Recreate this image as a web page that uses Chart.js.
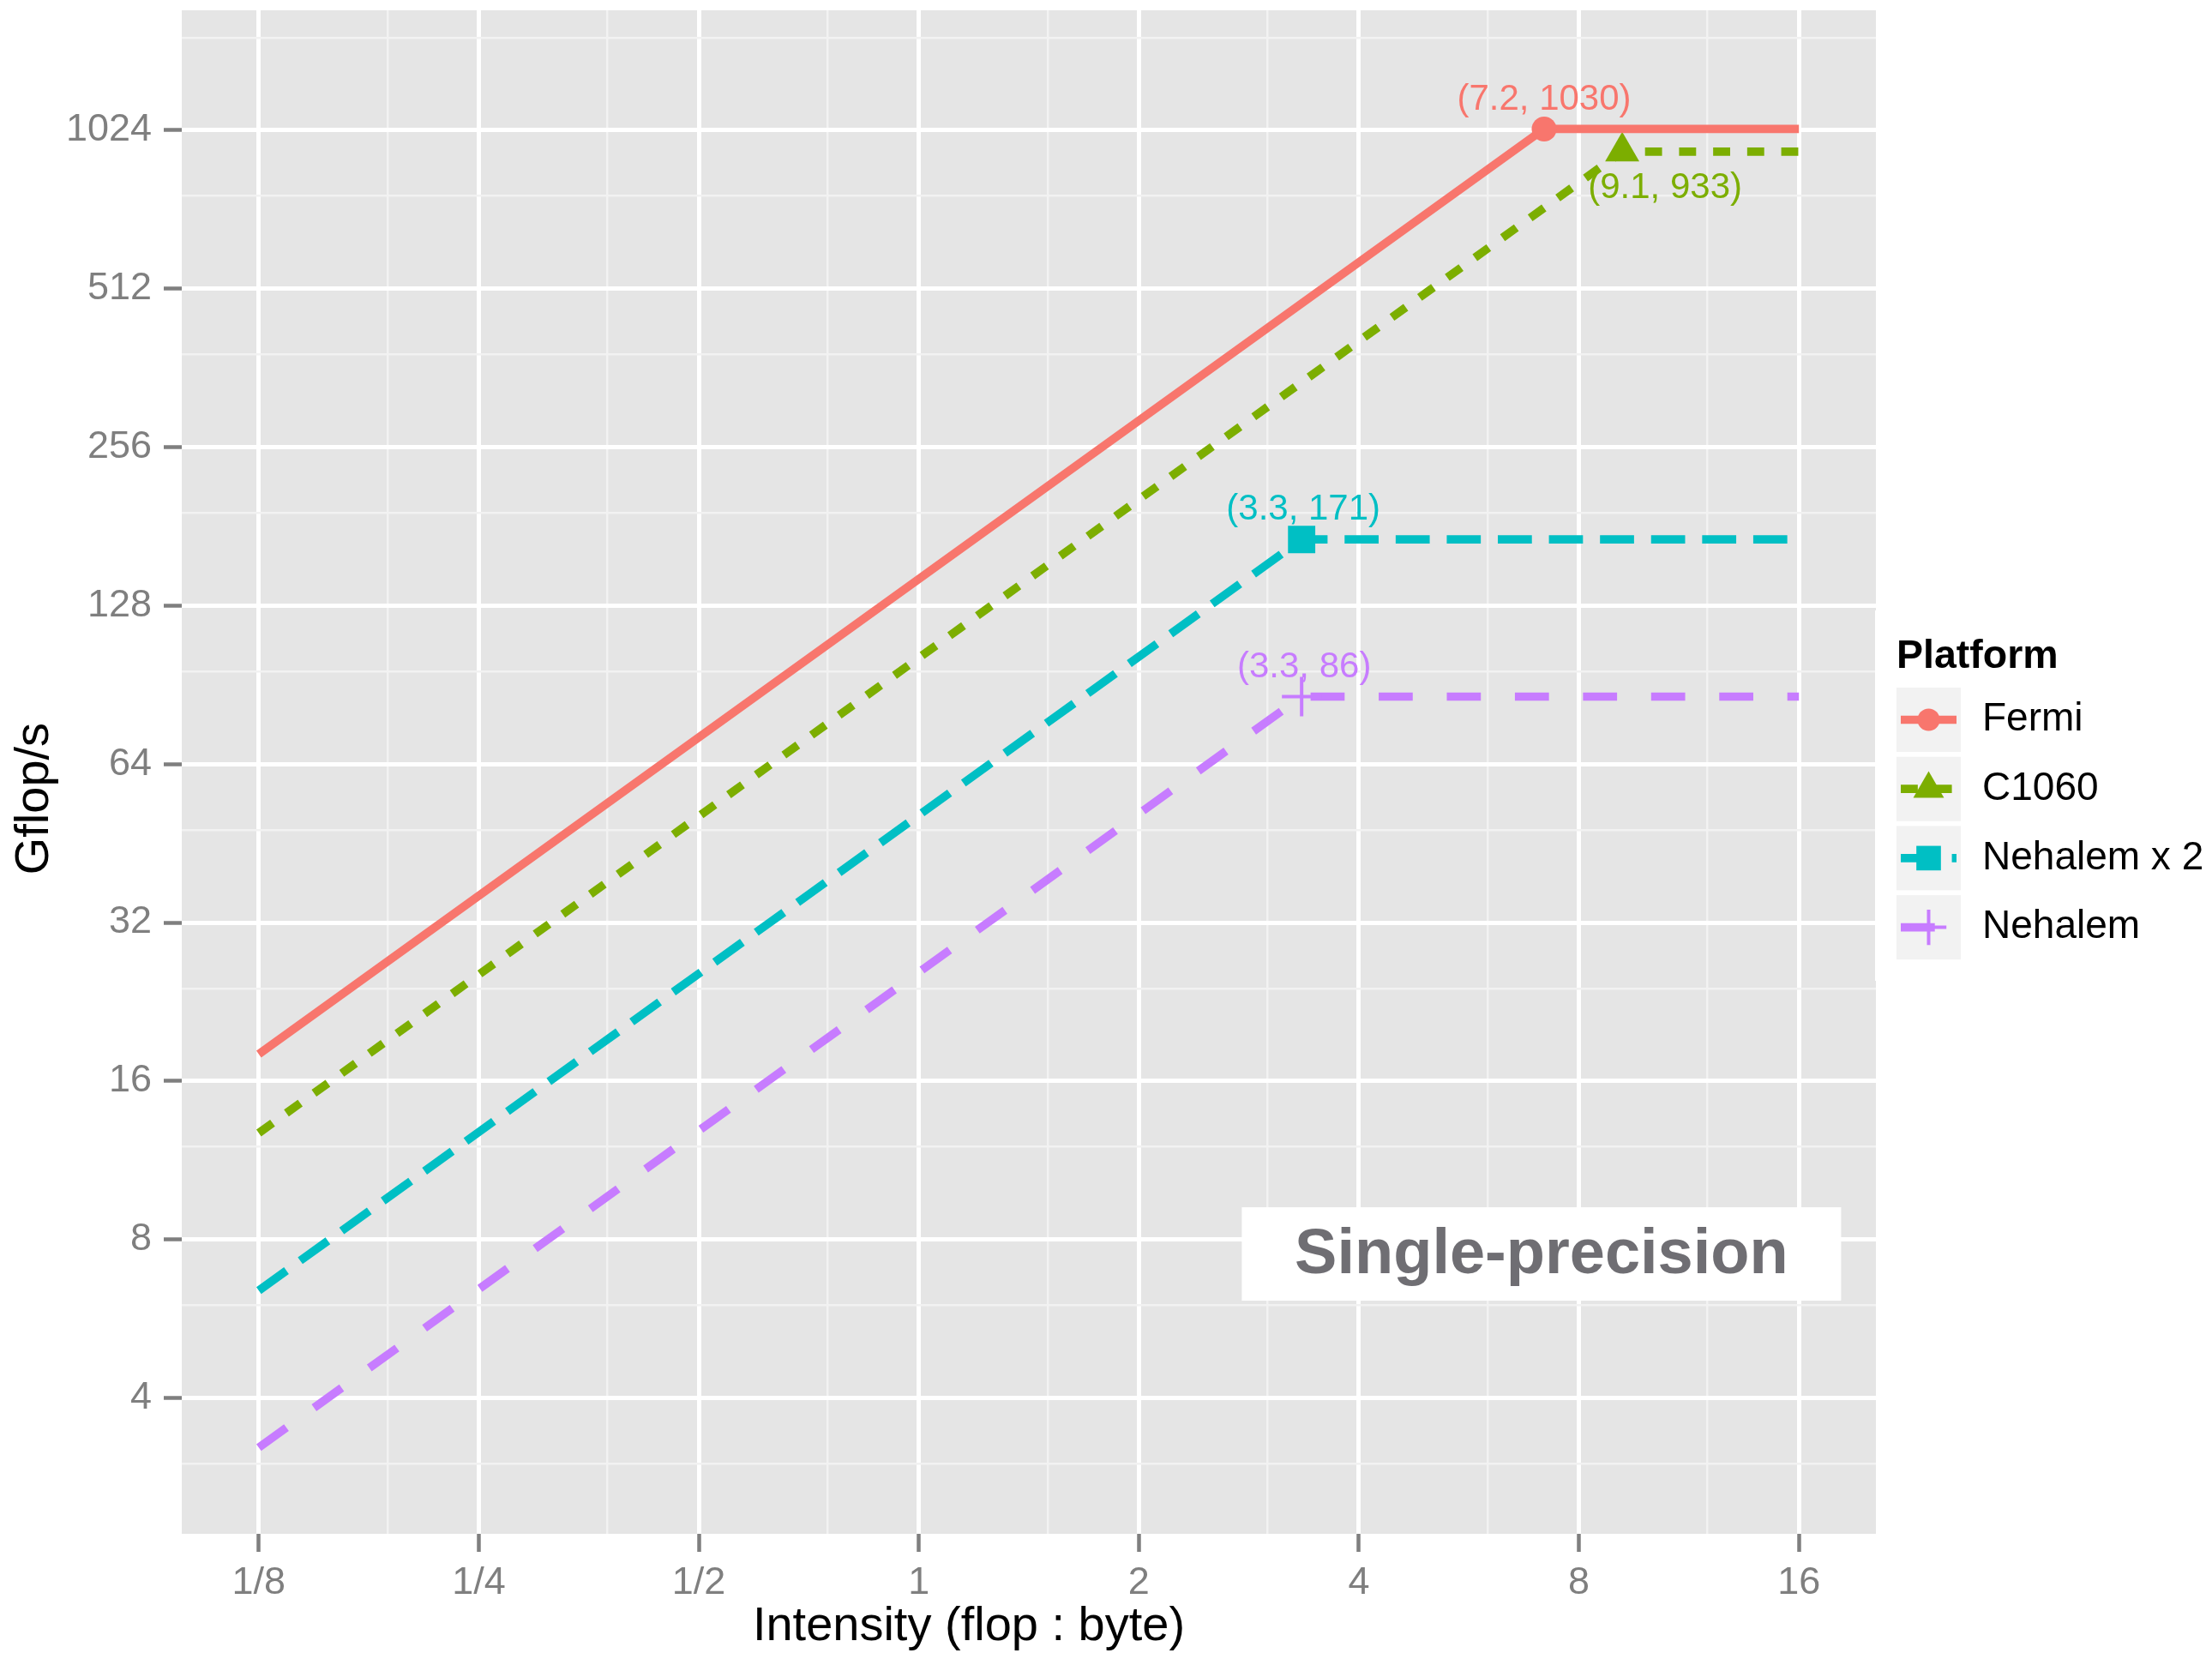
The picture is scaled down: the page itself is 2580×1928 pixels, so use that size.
<!DOCTYPE html>
<html><head><meta charset="utf-8">
<script src="https://cdn.jsdelivr.net/npm/chart.js@4.4.1/dist/chart.umd.min.js"></script>
<style>html,body{margin:0;padding:0;background:#fff}#wrap{width:2580px;height:1928px}</style>
</head><body><div id="wrap"><canvas id="c" width="2580" height="1928"></canvas></div>
<script>
// ---------- data ----------
const platforms = ['Fermi', 'C1060', 'Nehalem x 2', 'Nehalem'];
const intensityFermi = [0.125, 7.17, 16];
const gflopsFermi = [18.0, 1030, 1030];
const intensityC1060 = [0.125, 9.17, 16];
const gflopsC1060 = [12.75, 933, 933];
const intensityNehalem2 = [0.125, 3.34, 16];
const gflopsNehalem2 = [6.4, 171, 171];
const intensityNehalem = [0.125, 3.34, 16];
const gflopsNehalem = [3.22, 86, 86];
const ridgeLabels = ['(7.2, 1030)', '(9.1, 933)', '(3.3, 171)', '(3.3, 86)'];
const xTickValues = [0.125, 0.25, 0.5, 1, 2, 4, 8, 16];
const xTickLabels = ['1/8', '1/4', '1/2', '1', '2', '4', '8', '16'];
const yTickValues = [4, 8, 16, 32, 64, 128, 256, 512, 1024];
const yTickLabels = ['4', '8', '16', '32', '64', '128', '256', '512', '1024'];
const xMinorValues = [0.1875, 0.375, 0.75, 1.5, 3, 6, 12];
const yMinorValues = [3, 6, 12, 24, 48, 96, 192, 384, 768, 1536];
const annotationText = 'Single-precision';
const annotationAt = {x: 7.11, y: 7.51};

// ---------- styles ----------
const colors = ['#F8766D', '#7CAE00', '#00BFC4', '#C77CFF'];
const U = 9.93;
const dashes = [[], [2 * U, 2 * U], [4 * U, 2 * U], [4 * U, 4 * U]];
const pStyles = ['circle', 'triangle', 'rect', 'cross'];
const pRadii = [14.5, 23, 22.5, 23];
const pBorder = [0, 0, 0, 4];
const labelOffsets = [[0, -34], [50, 43], [2, -35], [3, -34]];
const FONT = 'Liberation Sans';
const LINE_W = 9.7;

const xsAll = [intensityFermi, intensityC1060, intensityNehalem2, intensityNehalem];
const ysAll = [gflopsFermi, gflopsC1060, gflopsNehalem2, gflopsNehalem];

function inList(list, v) { return list.some(t => Math.abs(t - v) / t < 1e-6); }
function buildTicks(s, majors, minors) {
  return [...majors, ...minors].filter(v => v >= s.min && v <= s.max)
    .sort((a, b) => a - b).map(v => ({value: v}));
}

const datasets = platforms.map((name, i) => ({
  label: name,
  data: xsAll[i].map((x, j) => ({x: x, y: ysAll[i][j]})),
  borderColor: colors[i],
  backgroundColor: colors[i],
  borderWidth: LINE_W,
  borderDash: dashes[i],
  borderCapStyle: 'butt',
  borderJoinStyle: 'miter',
  fill: false,
  tension: 0,
  pointStyle: pStyles[i],
  pointRadius: xsAll[i].map((_, j) => j === 1 ? pRadii[i] : 0),
  pointHoverRadius: xsAll[i].map((_, j) => j === 1 ? pRadii[i] : 0),
  pointBackgroundColor: colors[i],
  pointBorderColor: colors[i],
  pointBorderWidth: pBorder[i],
  clip: false
}));

function gridOpts(majors) {
  return {
    color: c => (c.tick && inList(majors, c.tick.value)) ? '#FFFFFF' : '#F2F2F2',
    lineWidth: c => (c.tick && inList(majors, c.tick.value)) ? 5 : 2.5,
    tickColor: c => (c.tick && inList(majors, c.tick.value)) ? '#7F7F7F' : 'rgba(0,0,0,0)',
    tickWidth: 4.5,
    tickLength: 21,
    drawTicks: true,
    drawOnChartArea: true,
    offset: false
  };
}

const bgPlugin = {
  id: 'bg',
  beforeDraw(chart) {
    const {ctx, chartArea: a} = chart;
    ctx.save();
    ctx.fillStyle = '#FFFFFF';
    ctx.fillRect(0, 0, chart.width, chart.height);
    ctx.fillStyle = '#E5E5E5';
    ctx.fillRect(a.left, a.top, a.right - a.left, a.bottom - a.top);
    ctx.restore();
  }
};

const annotPlugin = {
  id: 'annot',
  beforeDatasetsDraw(chart) {
    const {ctx, scales} = chart;
    const cx = scales.x.getPixelForValue(annotationAt.x);
    const cy = scales.y.getPixelForValue(annotationAt.y);
    const w = 699, h = 109;
    ctx.save();
    ctx.fillStyle = '#FFFFFF';
    ctx.fillRect(cx - w / 2, cy - h / 2, w, h);
    ctx.fillStyle = '#6F6E73';
    ctx.font = 'bold 74px "' + FONT + '"';
    ctx.textAlign = 'center';
    ctx.textBaseline = 'middle';
    ctx.fillText(annotationText, cx, cy + 2);
    ctx.restore();
  },
  afterDatasetsDraw(chart) {
    const {ctx} = chart;
    ctx.save();
    ctx.font = '42px "' + FONT + '"';
    ctx.textAlign = 'center';
    ctx.textBaseline = 'middle';
    chart.data.datasets.forEach((ds, i) => {
      const pt = chart.getDatasetMeta(i).data[1];
      ctx.fillStyle = colors[i];
      ctx.fillText(ridgeLabels[i], pt.x + labelOffsets[i][0], pt.y + labelOffsets[i][1]);
    });
    ctx.restore();
  }
};

function drawMarker(ctx, style, x, y, r, color, bw) {
  ctx.save();
  ctx.fillStyle = color; ctx.strokeStyle = color; ctx.setLineDash([]);
  ctx.beginPath();
  if (style === 'circle') { ctx.arc(x, y, r, 0, Math.PI * 2); ctx.fill(); }
  else if (style === 'triangle') {
    for (let k = 0; k < 3; k++) {
      const ang = k * 2 * Math.PI / 3;
      const px = x + Math.sin(ang) * r, py = y - Math.cos(ang) * r;
      if (k === 0) ctx.moveTo(px, py); else ctx.lineTo(px, py);
    }
    ctx.closePath(); ctx.fill();
  } else if (style === 'rect') {
    const s = Math.SQRT1_2 * r; ctx.fillRect(x - s, y - s, 2 * s, 2 * s);
  } else if (style === 'cross') {
    ctx.lineWidth = bw;
    ctx.moveTo(x, y - r); ctx.lineTo(x, y + r);
    ctx.moveTo(x - r, y); ctx.lineTo(x + r, y); ctx.stroke();
  }
  ctx.restore();
}

const legendPlugin = {
  id: 'ggLegend',
  afterDraw(chart) {
    const {ctx} = chart;
    ctx.save();
    ctx.fillStyle = '#FFFFFF';
    ctx.fillRect(2187, 712, 393, 432);
    ctx.fillStyle = '#000000';
    ctx.font = 'bold 46.5px "' + FONT + '"';
    ctx.textAlign = 'left';
    ctx.textBaseline = 'alphabetic';
    ctx.fillText('Platform', 2212, 779);
    const keyLeft = 2212, keySize = 75, top0 = 802, pitch = 80.7;
    chart.data.datasets.forEach((ds, i) => {
      const top = top0 + i * pitch;
      const cy = top + keySize / 2;
      ctx.fillStyle = '#F2F2F2';
      ctx.fillRect(keyLeft, top, keySize, keySize);
      ctx.save();
      ctx.strokeStyle = colors[i];
      ctx.lineWidth = LINE_W;
      ctx.lineCap = 'butt';
      ctx.setLineDash(dashes[i]);
      ctx.beginPath();
      ctx.moveTo(keyLeft + 5, cy); ctx.lineTo(keyLeft + keySize - 5, cy);
      ctx.stroke();
      ctx.restore();
      drawMarker(ctx, pStyles[i], keyLeft + keySize / 2, cy, pRadii[i] * 0.9, colors[i], pBorder[i]);
      ctx.fillStyle = '#000000';
      ctx.font = '46px "' + FONT + '"';
      ctx.textBaseline = 'middle';
      ctx.fillText(ds.label, 2312, cy);
    });
    ctx.restore();
  }
};

new Chart(document.getElementById('c'), {
  type: 'line',
  data: {datasets: datasets},
  plugins: [bgPlugin, annotPlugin, legendPlugin],
  options: {
    responsive: false,
    animation: false,
    devicePixelRatio: 1,
    events: [],
    layout: {padding: {left: 0, top: 12, right: 392, bottom: 0}},
    plugins: {legend: {display: false}, tooltip: {enabled: false}, title: {display: false}},
    scales: {
      x: {
        type: 'logarithmic',
        position: 'bottom',
        min: Math.pow(2, -3.35),
        max: Math.pow(2, 4.35),
        afterBuildTicks: s => { s.ticks = buildTicks(s, xTickValues, xMinorValues); },
        afterFit: s => { s.height = 139; s.paddingLeft = 0; s.paddingRight = 0; },
        grid: gridOpts(xTickValues),
        border: {display: false},
        ticks: {
          autoSkip: false, maxRotation: 0, minRotation: 0, padding: 10,
          color: '#7F7F7F', font: {family: FONT, size: 45},
          callback: v => { const k = xTickValues.findIndex(t => Math.abs(t - v) / t < 1e-6); return k >= 0 ? xTickLabels[k] : ''; }
        },
        title: {
          display: true, text: 'Intensity (flop : byte)' + '         ', color: '#000000',
          font: {family: FONT, size: 56, lineHeight: 1}, padding: {top: 0, bottom: 2}
        }
      },
      y: {
        type: 'logarithmic',
        position: 'left',
        min: 2.208,
        max: 1731,
        afterBuildTicks: s => { s.ticks = buildTicks(s, yTickValues, yMinorValues); },
        afterFit: s => { s.width = 212; s.paddingTop = 0; s.paddingBottom = 0; },
        grid: gridOpts(yTickValues),
        border: {display: false},
        ticks: {
          autoSkip: false, padding: 14,
          color: '#7F7F7F', font: {family: FONT, size: 45},
          callback: v => { const k = yTickValues.findIndex(t => Math.abs(t - v) / t < 1e-6); return k >= 0 ? yTickLabels[k] : ''; }
        },
        title: {
          display: true, text: 'Gflop/s' + '    ', color: '#000000',
          font: {family: FONT, size: 56, lineHeight: 1}, padding: {top: 13, bottom: 0}
        }
      }
    }
  }
});
</script>
</body></html>
